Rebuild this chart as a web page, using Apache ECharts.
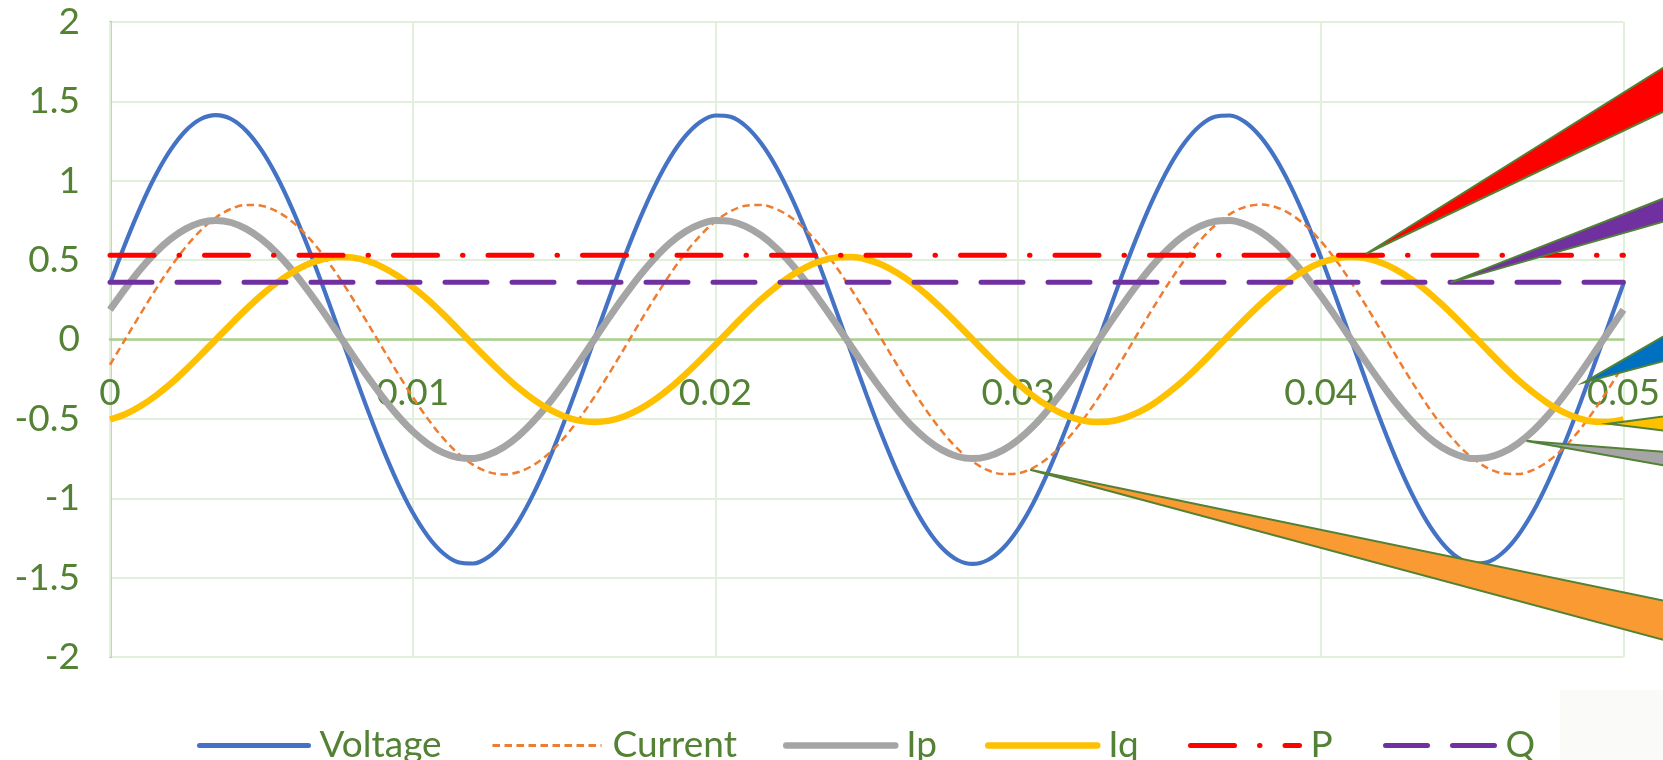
<!DOCTYPE html>
<html>
<head>
<meta charset="utf-8">
<title>Voltage, current and power</title>
<script src="https://cdn.jsdelivr.net/npm/echarts@6/dist/echarts.min.js"></script>
<style>
  html, body { margin: 0; padding: 0; background: #ffffff; }
  #chart { width: 1663px; height: 760px; }
</style>
</head>
<body>
<div id="chart"></div>
<script>
// Sample times (s)
const time = [
  0, 0.0005, 0.001, 0.0015, 0.002, 0.0025, 0.003, 0.0035, 0.004, 0.0045,
  0.005, 0.0055, 0.006, 0.0065, 0.007, 0.0075, 0.008, 0.0085, 0.009, 0.0095,
  0.01, 0.0105, 0.011, 0.0115, 0.012, 0.0125, 0.013, 0.0135, 0.014, 0.0145,
  0.015, 0.0155, 0.016, 0.0165, 0.017, 0.0175, 0.018, 0.0185, 0.019, 0.0195,
  0.02, 0.0205, 0.021, 0.0215, 0.022, 0.0225, 0.023, 0.0235, 0.024, 0.0245,
  0.025, 0.0255, 0.026, 0.0265, 0.027, 0.0275, 0.028, 0.0285, 0.029, 0.0295,
  0.03, 0.0305, 0.031, 0.0315, 0.032, 0.0325, 0.033, 0.0335, 0.034, 0.0345,
  0.035, 0.0355, 0.036, 0.0365, 0.037, 0.0375, 0.038, 0.0385, 0.039, 0.0395,
  0.04, 0.0405, 0.041, 0.0415, 0.042, 0.0425, 0.043, 0.0435, 0.044, 0.0445,
  0.045, 0.0455, 0.046, 0.0465, 0.047, 0.0475, 0.048, 0.0485, 0.049, 0.0495,
  0.05
];

const voltage = [
  0.352, 0.602, 0.831, 1.031, 1.194, 1.315, 1.389, 1.414, 1.389, 1.315,
  1.194, 1.031, 0.831, 0.602, 0.352, 0.089, -0.177, -0.437, -0.681, -0.901,
  -1.090, -1.239, -1.345, -1.403, -1.411, -1.370, -1.279, -1.144, -0.968, -0.758,
  -0.521, -0.265, 0, 0.265, 0.521, 0.758, 0.968, 1.144, 1.279, 1.370,
  1.411, 1.403, 1.345, 1.239, 1.090, 0.901, 0.681, 0.437, 0.177, -0.089,
  -0.352, -0.602, -0.831, -1.031, -1.194, -1.315, -1.389, -1.414, -1.389, -1.315,
  -1.194, -1.031, -0.831, -0.602, -0.352, -0.089, 0.177, 0.437, 0.681, 0.901,
  1.090, 1.239, 1.345, 1.403, 1.411, 1.370, 1.279, 1.144, 0.968, 0.758,
  0.521, 0.265, 0, -0.265, -0.521, -0.758, -0.968, -1.144, -1.279, -1.370,
  -1.411, -1.403, -1.345, -1.239, -1.090, -0.901, -0.681, -0.437, -0.177, 0.089,
  0.352
];

const current = [
  -0.159, 0, 0.159, 0.313, 0.455, 0.582, 0.688, 0.769, 0.823, 0.848,
  0.843, 0.808, 0.745, 0.655, 0.542, 0.410, 0.263, 0.107, -0.053, -0.211,
  -0.362, -0.500, -0.620, -0.718, -0.790, -0.835, -0.850, -0.835, -0.790, -0.718,
  -0.620, -0.500, -0.362, -0.211, -0.053, 0.107, 0.263, 0.410, 0.542, 0.655,
  0.745, 0.808, 0.843, 0.848, 0.823, 0.769, 0.688, 0.582, 0.455, 0.313,
  0.159, 0, -0.159, -0.313, -0.455, -0.582, -0.688, -0.769, -0.823, -0.848,
  -0.843, -0.808, -0.745, -0.655, -0.542, -0.410, -0.263, -0.107, 0.053, 0.211,
  0.362, 0.500, 0.620, 0.718, 0.790, 0.835, 0.850, 0.835, 0.790, 0.718,
  0.620, 0.500, 0.362, 0.211, 0.053, -0.107, -0.263, -0.410, -0.542, -0.655,
  -0.745, -0.808, -0.843, -0.848, -0.823, -0.769, -0.688, -0.582, -0.455, -0.313,
  -0.159
];

const ip = [
  0.187, 0.319, 0.441, 0.547, 0.633, 0.697, 0.737, 0.750, 0.737, 0.697,
  0.633, 0.547, 0.441, 0.319, 0.187, 0.047, -0.094, -0.232, -0.361, -0.478,
  -0.578, -0.657, -0.713, -0.744, -0.749, -0.726, -0.679, -0.607, -0.513, -0.402,
  -0.276, -0.141, 0, 0.141, 0.276, 0.402, 0.513, 0.607, 0.679, 0.726,
  0.749, 0.744, 0.713, 0.657, 0.578, 0.478, 0.361, 0.232, 0.094, -0.047,
  -0.187, -0.319, -0.441, -0.547, -0.633, -0.697, -0.737, -0.750, -0.737, -0.697,
  -0.633, -0.547, -0.441, -0.319, -0.187, -0.047, 0.094, 0.232, 0.361, 0.478,
  0.578, 0.657, 0.713, 0.744, 0.749, 0.726, 0.679, 0.607, 0.513, 0.402,
  0.276, 0.141, 0, -0.141, -0.276, -0.402, -0.513, -0.607, -0.679, -0.726,
  -0.749, -0.744, -0.713, -0.657, -0.578, -0.478, -0.361, -0.232, -0.094, 0.047,
  0.187
];

const iq = [
  -0.504, -0.471, -0.421, -0.356, -0.279, -0.191, -0.097, 0, 0.097, 0.191,
  0.279, 0.356, 0.421, 0.471, 0.504, 0.519, 0.516, 0.495, 0.456, 0.401,
  0.331, 0.251, 0.161, 0.065, -0.033, -0.129, -0.221, -0.306, -0.379, -0.439,
  -0.483, -0.511, -0.520, -0.511, -0.483, -0.439, -0.379, -0.306, -0.221, -0.129,
  -0.033, 0.065, 0.161, 0.251, 0.331, 0.401, 0.456, 0.495, 0.516, 0.519,
  0.504, 0.471, 0.421, 0.356, 0.279, 0.191, 0.097, 0, -0.097, -0.191,
  -0.279, -0.356, -0.421, -0.471, -0.504, -0.519, -0.516, -0.495, -0.456, -0.401,
  -0.331, -0.251, -0.161, -0.065, 0.033, 0.129, 0.221, 0.306, 0.379, 0.439,
  0.483, 0.511, 0.520, 0.511, 0.483, 0.439, 0.379, 0.306, 0.221, 0.129,
  0.033, -0.065, -0.161, -0.251, -0.331, -0.401, -0.456, -0.495, -0.516, -0.519,
  -0.504
];

// Average active and reactive power levels
const pLevel = [0.53, 0.53];
const qLevel = [0.36, 0.36];
const levelTime = [0, 0.05];

const seriesNames = ['Voltage', 'Current', 'Ip', 'Iq', 'P', 'Q'];

// Series look: colour, stroke width and dash pattern
const styles = {
  Voltage: { color: '#4472C4', width: 4.2, type: 'solid',           cap: 'butt' },
  Current: { color: '#ED7D31', width: 2.5, type: [7.5, 4.5],        cap: 'butt' },
  Ip:      { color: '#A5A5A5', width: 7,   type: 'solid',           cap: 'butt' },
  Iq:      { color: '#FFC000', width: 6.5, type: 'solid',           cap: 'butt' },
  P:       { color: '#FF0000', width: 5,   type: [44, 25, 0.5, 25], cap: 'round' },
  Q:       { color: '#7030A0', width: 5,   type: [42, 25],          cap: 'round' }
};

// Legend entries: left edge of each entry and the icon stroke width
const legendLeft  = [192, 486, 778, 980, 1183, 1378];
const legendWidth = [5, 3, 6.5, 6.5, 5, 5];
const legendCap   = ['round', 'butt', 'round', 'round', 'round', 'round'];

// Callout wedges: the tip sits on a curve (data coordinates),
// the wide end runs off the right edge of the canvas (pixels).
const callouts = [
  { anchor: [0.0415, 0.54],  fill: '#FF0000', far: [[1690, 51], [1690, 99]] },
  { anchor: [0.0443, 0.36],  fill: '#7030A0', far: [[1690, 188], [1690, 214]] },
  { anchor: [0.0487, -0.27], fill: '#0070C0', far: [[1690, 321], [1690, 354]] },
  { anchor: [0.0495, -0.53], fill: '#FFC000', far: [[1690, 413], [1690, 434]] },
  { anchor: [0.0468, -0.64], fill: '#A5A5A5', far: [[1690, 454], [1690, 470]] },
  { anchor: [0.0304, -0.82], fill: '#F99A32', far: [[1690, 606], [1690, 647]] }
];

const zip = (xs, ys) => xs.map((x, i) => [x, ys[i]]);
const seriesData = {
  Voltage: zip(time, voltage),
  Current: zip(time, current),
  Ip: zip(time, ip),
  Iq: zip(time, iq),
  P: zip(levelTime, pLevel),
  Q: zip(levelTime, qLevel)
};

const GREEN_TEXT = '#548235';
const FONT = 'Lato, "Open Sans", sans-serif';

const chart = echarts.init(document.getElementById('chart'), null, { renderer: 'canvas' });

const GRID = { left: 110, right: 28, top: 22, bottom: 103 };
// distance from the bottom of the plot to the y = 0 line
const zeroOffset = (760 - GRID.top - GRID.bottom) / 2;

chart.setOption({
  animation: false,
  backgroundColor: '#ffffff',
  grid: Object.assign({ containLabel: false }, GRID),
  xAxis: {
    type: 'value',
    min: 0,
    max: 0.05,
    interval: 0.01,
    position: 'bottom',
    offset: -zeroOffset,
    axisLine: { show: true, onZero: false, lineStyle: { color: '#A9D08E', width: 2.5 } },
    axisTick: { show: false },
    axisLabel: { color: GREEN_TEXT, fontFamily: FONT, fontSize: 37, margin: 35, showMaxLabel: true, hideOverlap: false },
    splitLine: { show: true, lineStyle: { color: '#E2EFDA', width: 2 } },
    z: 1
  },
  yAxis: {
    type: 'value',
    min: -2,
    max: 2,
    interval: 0.5,
    axisLine: { show: true, lineStyle: { color: '#A9D08E', width: 2.5 } },
    axisTick: { show: false },
    axisLabel: { color: GREEN_TEXT, fontFamily: FONT, fontSize: 37, margin: 30 },
    splitLine: { show: true, lineStyle: { color: '#E2EFDA', width: 2 } }
  },
  legend: seriesNames.map((name, i) => ({
    data: [name],
    left: legendLeft[i],
    top: 722,
    itemWidth: 109,
    itemHeight: 16,
    selectedMode: false,
    itemStyle: { opacity: 0 },
    lineStyle: { width: legendWidth[i], cap: legendCap[i] },
    textStyle: { color: GREEN_TEXT, fontFamily: FONT, fontSize: 37, padding: [0, 0, 0, 6] }
  })),
  series: seriesNames.map(name => {
    const s = styles[name];
    return {
      name: name,
      type: 'line',
      data: seriesData[name],
      smooth: seriesData[name].length > 2 ? 0.33 : false,
      symbol: 'none',
      lineStyle: { color: s.color, width: s.width, type: s.type, cap: s.cap },
      itemStyle: { color: s.color }
    };
  })
});

// Callouts and the faint corner image are overlays placed after layout
const overlays = [
  {
    type: 'rect', z: 1,
    shape: { x: 1560, y: 690, width: 110, height: 80 },
    style: { fill: '#fafbf9' }
  }
];
callouts.forEach(c => {
  const tip = chart.convertToPixel({ gridIndex: 0 }, c.anchor);
  overlays.push({
    type: 'polygon', z: 100,
    shape: { points: [tip, c.far[0], c.far[1]] },
    style: { fill: c.fill, stroke: '#538135', lineWidth: 2, lineJoin: 'miter' }
  });
});
chart.setOption({ graphic: overlays });
</script>
</body>
</html>
